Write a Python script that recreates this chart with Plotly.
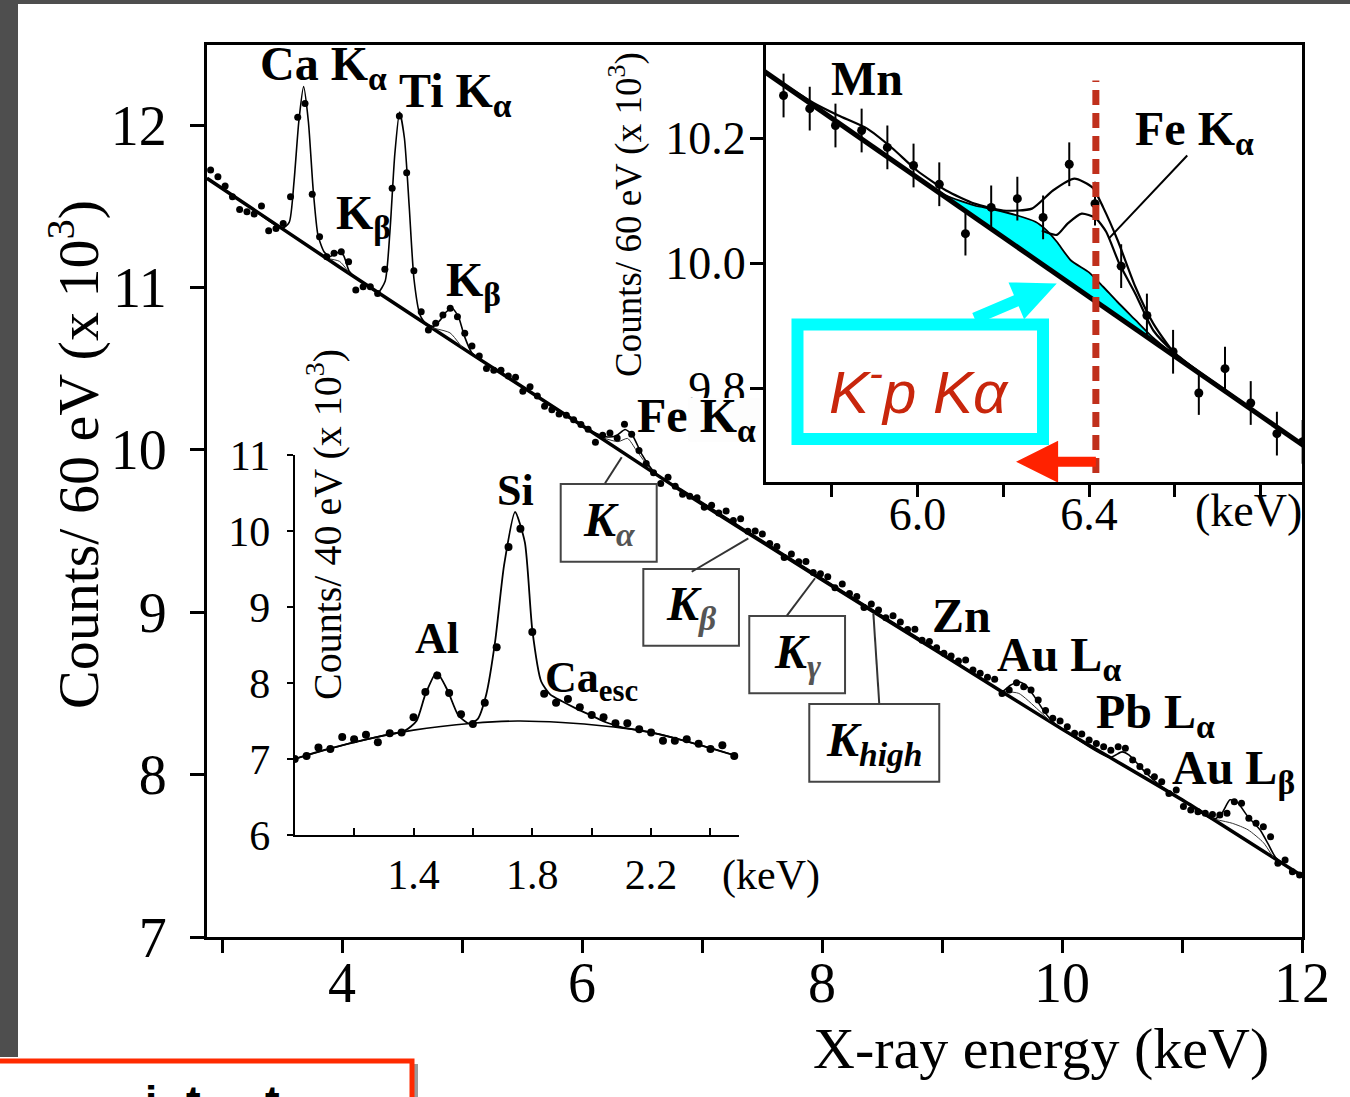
import plotly.graph_objects as go

W, H = 1350, 1097
SERIF = "Liberation Serif, Times New Roman, serif"
SANS = "Liberation Sans, Arial, sans-serif"

# ---------------- main spectrum (60 eV bins) ----------------
ENERGY = [2.905, 2.966, 3.026, 3.087, 3.147, 3.208, 3.268, 3.329, 3.389, 3.450,
          3.510, 3.571, 3.631, 3.692, 3.752, 3.813, 3.873, 3.934, 3.994, 4.055,
          4.115, 4.176, 4.236, 4.297, 4.357, 4.418, 4.478, 4.539, 4.599, 4.660,
          4.720, 4.781, 4.841, 4.902, 4.962, 5.023, 5.083, 5.144, 5.204, 5.265,
          5.325, 5.386, 5.446, 5.507, 5.567, 5.628, 5.688, 5.749, 5.809, 5.870,
          5.930, 5.991, 6.051, 6.112, 6.172, 6.233, 6.293, 6.354, 6.414, 6.475,
          6.535, 6.596, 6.656, 6.717, 6.777, 6.838, 6.898, 6.959, 7.019, 7.080,
          7.140, 7.201, 7.261, 7.322, 7.382, 7.443, 7.503, 7.564, 7.624, 7.685,
          7.745, 7.806, 7.866, 7.927, 7.987, 8.048, 8.108, 8.169, 8.229, 8.290,
          8.350, 8.411, 8.471, 8.532, 8.592, 8.653, 8.713, 8.774, 8.834, 8.895,
          8.955, 9.016, 9.076, 9.137, 9.197, 9.258, 9.318, 9.379, 9.439, 9.500,
          9.560, 9.621, 9.681, 9.742, 9.802, 9.863, 9.923, 9.984, 10.044, 10.105,
          10.165, 10.226, 10.286, 10.347, 10.407, 10.468, 10.528, 10.589, 10.649, 10.710,
          10.770, 10.831, 10.891, 10.952, 11.012, 11.073, 11.133, 11.194, 11.254, 11.315,
          11.375, 11.436, 11.496, 11.557, 11.617, 11.678, 11.738, 11.799, 11.859, 11.920,
          11.980]
COUNTS = [11.723, 11.682, 11.624, 11.558, 11.480, 11.466, 11.452, 11.501, 11.349, 11.363,
          11.394, 11.558, 12.047, 12.133, 11.573, 11.312, 11.189, 11.210, 11.220, 11.158,
          10.984, 11.004, 11.004, 10.963, 11.111, 11.610, 12.055, 11.706, 11.103, 10.850,
          10.737, 10.779, 10.830, 10.871, 10.820, 10.717, 10.639, 10.577, 10.500, 10.490,
          10.490, 10.455, 10.446, 10.360, 10.389, 10.331, 10.268, 10.247, 10.220, 10.212,
          10.185, 10.156, 10.126, 10.047, 10.089, 10.103, 10.073, 10.158, 10.095, 9.995,
          9.916, 9.858, 9.792, 9.831, 9.776, 9.727, 9.714, 9.705, 9.647, 9.659,
          9.611, 9.623, 9.564, 9.576, 9.498, 9.500, 9.482, 9.423, 9.405, 9.337,
          9.359, 9.311, 9.312, 9.244, 9.236, 9.218, 9.150, 9.173, 9.115, 9.097,
          9.029, 9.051, 9.014, 8.966, 8.978, 8.940, 8.893, 8.895, 8.827, 8.819,
          8.781, 8.747, 8.730, 8.700, 8.706, 8.644, 8.624, 8.600, 8.587, 8.500,
          8.521, 8.566, 8.541, 8.521, 8.460, 8.394, 8.347, 8.330, 8.295, 8.254,
          8.250, 8.213, 8.192, 8.172, 8.150, 8.172, 8.162, 8.090, 8.050, 8.018,
          7.987, 7.956, 7.884, 7.905, 7.803, 7.782, 7.772, 7.762, 7.755, 7.751,
          7.762, 7.833, 7.823, 7.731, 7.700, 7.679, 7.618, 7.454, 7.474, 7.402,
          7.382]

BG_E = [2.875, 4.0, 5.1, 6.0, 6.82, 8.0, 8.98, 10.0, 11.0, 12.0]
BG_Y = [11.672, 11.115, 10.58, 10.15, 9.75, 9.2, 8.75, 8.28, 7.845, 7.376]

FIT_E = [2.875, 3.2, 3.5, 3.56, 3.60, 3.64, 3.68, 3.72, 3.76, 3.80, 3.85, 3.90, 3.96,
         4.01, 4.06, 4.12, 4.2, 4.3, 4.36, 4.40, 4.44, 4.48, 4.52, 4.56, 4.60, 4.65,
         4.70, 4.76, 4.82, 4.87, 4.92, 4.97, 5.02, 5.08, 5.15, 5.6, 6.0, 6.12, 6.2,
         6.28, 6.36, 6.42, 6.5, 6.6, 6.7, 6.82, 7.3, 7.7, 8.1, 8.45, 8.8, 9.3, 9.4,
         9.5, 9.57, 9.636, 9.70, 9.78, 9.86, 9.93, 10.0, 10.4, 10.5, 10.56, 10.7,
         10.86, 11.0, 11.26, 11.33, 11.40, 11.46, 11.55, 11.65, 11.72, 11.78, 12.0]
FIT_Y = [11.672, 11.511, 11.363, 11.40, 11.65, 12.02, 12.236, 12.02, 11.60, 11.32,
         11.22, 11.19, 11.215, 11.20, 11.10, 11.055, 11.018, 10.969, 11.04, 11.35,
         11.82, 12.08, 11.92, 11.50, 11.05, 10.83, 10.775, 10.76, 10.80, 10.85, 10.87,
         10.82, 10.70, 10.60, 10.556, 10.341, 10.15, 10.10, 10.08, 10.085, 10.125,
         10.09, 9.97, 9.865, 9.81, 9.76, 9.536, 9.35, 9.164, 9.003, 8.843, 8.605,
         8.556, 8.512, 8.55, 8.572, 8.55, 8.47, 8.38, 8.32, 8.28, 8.106, 8.14, 8.12,
         8.01, 7.91, 7.848, 7.724, 7.76, 7.845, 7.83, 7.74, 7.66, 7.57, 7.49, 7.376]

COMP_E = [3.86, 3.98, 4.06, None, 4.75, 4.90, 5.00, None,
          6.15, 6.30, 6.38, 6.45, 6.55, 6.65, None,
          9.50, 9.64, 9.80, 9.90, None, 11.25, 11.42, 11.55, 11.68, 11.76]
COMP_Y = [11.18, 11.16, 11.09, None, 10.75, 10.72, 10.63, None,
          10.08, 10.05, 10.07, 10.00, 9.90, 9.83, None,
          8.512, 8.50, 8.40, 8.33, None, 7.728, 7.70, 7.66, 7.58, 7.49]

# ---------------- top-right inset (Fe region) ----------------
IN_BG_E = [5.60, 6.95]
IN_BG_Y = [10.327, 9.684]
IN_FIT_E = [5.60, 5.646, 5.70, 5.758, 5.816, 5.883, 5.941, 5.999, 6.067, 6.133, 6.2,
            6.267, 6.316, 6.366, 6.408, 6.433, 6.467, 6.508, 6.55, 6.6, 6.65, 6.717,
            6.8, 6.892, 6.95]
IN_FIT_Y = [10.327, 10.305, 10.281, 10.256, 10.236, 10.215, 10.184, 10.148, 10.116,
            10.095, 10.084, 10.087, 10.116, 10.135, 10.121, 10.089, 10.036, 9.962,
            9.903, 9.855, 9.829, 9.797, 9.756, 9.711, 9.684]
IN_FE_E = [6.29, 6.325, 6.35, 6.383, 6.415, 6.44, 6.47, 6.508, 6.55, 6.6, 6.65]
IN_FE_Y = [10.052, 10.045, 10.063, 10.079, 10.072, 10.05, 10.0, 9.951, 9.892, 9.856, 9.829]
IN_KP_E = [6.0, 6.067, 6.133, 6.175, 6.233, 6.275, 6.3, 6.325, 6.358, 6.4, 6.433,
           6.466, 6.508, 6.55, 6.608]
IN_KP_Y = [10.137, 10.108, 10.092, 10.086, 10.076, 10.066, 10.053, 10.034, 10.004,
           9.985, 9.962, 9.938, 9.909, 9.880, 9.847]
IN_ERR = 0.035

# ---------------- bottom-left inset (40 eV bins) ----------------
SI_E = [1.00, 1.04, 1.08, 1.12, 1.16, 1.20, 1.24, 1.28, 1.32, 1.36, 1.40, 1.44, 1.48,
        1.52, 1.56, 1.60, 1.64, 1.68, 1.72, 1.76, 1.80, 1.84, 1.88, 1.92, 1.96, 2.00,
        2.04, 2.08, 2.12, 2.16, 2.20, 2.24, 2.28, 2.32, 2.36, 2.40, 2.44, 2.48]
SI_Y = [7.00, 7.04, 7.15, 7.13, 7.29, 7.26, 7.32, 7.22, 7.34, 7.35, 7.55, 7.88, 8.10,
        7.87, 7.59, 7.46, 7.74, 8.47, 9.79, 10.03, 8.67, 7.86, 7.74, 7.79, 7.68, 7.58,
        7.55, 7.47, 7.47, 7.39, 7.35, 7.24, 7.24, 7.26, 7.20, 7.13, 7.18, 7.04]
SI_FIT_E = [1.00, 1.10, 1.20, 1.30, 1.37, 1.41, 1.44, 1.478, 1.515, 1.55, 1.585, 1.615,
            1.645, 1.675, 1.705, 1.742, 1.775, 1.80, 1.83, 1.86, 1.90, 1.95, 2.00, 2.05,
            2.10, 2.20, 2.35, 2.48]
SI_FIT_Y = [7.00, 7.12, 7.22, 7.31, 7.37, 7.50, 7.85, 8.14, 7.90, 7.58, 7.47, 7.52,
            7.85, 8.55, 9.55, 10.25, 9.85, 8.70, 8.02, 7.85, 7.76, 7.66, 7.57, 7.48,
            7.42, 7.35, 7.20, 7.05]
SI_BG_E = [1.00, 1.20, 1.40, 1.60, 1.75, 1.90, 2.05, 2.20, 2.35, 2.48]
SI_BG_Y = [7.00, 7.22, 7.38, 7.47, 7.50, 7.48, 7.43, 7.35, 7.20, 7.05]


def px(x):
    return x / W


def py(y):
    return 1 - y / H


fig = go.Figure()

# main
fig.add_trace(go.Scatter(x=BG_E, y=BG_Y, mode="lines", line=dict(color="black", width=3.5, shape="spline", smoothing=0.5),
                         xaxis="x", yaxis="y"))
fig.add_trace(go.Scatter(x=COMP_E, y=COMP_Y, mode="lines", line=dict(color="#333", width=1, shape="spline", smoothing=0.6),
                         connectgaps=False, xaxis="x", yaxis="y"))
fig.add_trace(go.Scatter(x=FIT_E, y=FIT_Y, mode="lines", line=dict(color="black", width=1.6, shape="spline", smoothing=0.6),
                         xaxis="x", yaxis="y"))
fig.add_trace(go.Scatter(x=ENERGY, y=COUNTS, mode="markers", marker=dict(size=7, color="black"),
                         xaxis="x", yaxis="y"))

# top-right inset
fig.add_trace(go.Scatter(x=IN_KP_E, y=IN_KP_Y, mode="lines", fill="toself", fillcolor="#00ffff",
                         line=dict(color="black", width=1.8, shape="spline", smoothing=0.6),
                         xaxis="x2", yaxis="y2"))
fig.add_trace(go.Scatter(x=IN_BG_E, y=IN_BG_Y, mode="lines", line=dict(color="black", width=5),
                         xaxis="x2", yaxis="y2"))
fig.add_trace(go.Scatter(x=IN_FIT_E, y=IN_FIT_Y, mode="lines", line=dict(color="black", width=2.2, shape="spline", smoothing=0.6),
                         xaxis="x2", yaxis="y2"))
fig.add_trace(go.Scatter(x=IN_FE_E, y=IN_FE_Y, mode="lines", line=dict(color="black", width=2.2, shape="spline", smoothing=0.6),
                         xaxis="x2", yaxis="y2"))
fig.add_trace(go.Scatter(x=ENERGY, y=COUNTS, mode="markers", marker=dict(size=9, color="black"),
                         error_y=dict(type="constant", value=IN_ERR, thickness=2, width=0, color="black"),
                         xaxis="x2", yaxis="y2"))

# bottom-left inset
fig.add_trace(go.Scatter(x=SI_BG_E, y=SI_BG_Y, mode="lines", line=dict(color="black", width=1.6, shape="spline", smoothing=0.8),
                         xaxis="x3", yaxis="y3"))
fig.add_trace(go.Scatter(x=SI_FIT_E, y=SI_FIT_Y, mode="lines", line=dict(color="black", width=1.8, shape="spline", smoothing=0.6),
                         xaxis="x3", yaxis="y3"))
fig.add_trace(go.Scatter(x=SI_E, y=SI_Y, mode="markers", marker=dict(size=8, color="black"),
                         xaxis="x3", yaxis="y3"))

axis_common = dict(showgrid=False, zeroline=False, showline=True, linecolor="black", color="black",
                   automargin=False)

fig.update_layout(
    width=W, height=H, margin=dict(l=0, r=0, t=0, b=0, pad=0, autoexpand=False),
    paper_bgcolor="white", plot_bgcolor="rgba(0,0,0,0)", showlegend=False,
    xaxis=dict(axis_common, domain=[px(207), px(1302)], range=[2.875, 12.0], anchor="y",
               linewidth=3, mirror=True, ticks="outside", ticklen=13, tickwidth=3,
               tickvals=[3, 4, 5, 6, 7, 8, 9, 10, 11, 12],
               ticktext=["", "4", "", "6", "", "8", "", "10", "", "12"],
               tickfont=dict(family=SERIF, size=56, color="black"), ticklabelstandoff=-18),
    yaxis=dict(axis_common, domain=[py(937), py(45)], range=[7, 12.4926], anchor="x",
               linewidth=3, mirror=True, ticks="outside", ticklen=14, tickwidth=3,
               tickvals=[7, 8, 9, 10, 11, 12], ticktext=["7", "8", "9", "10", "11", "12"],
               tickfont=dict(family=SERIF, size=56, color="black"), ticklabelstandoff=12),
    xaxis2=dict(axis_common, domain=[px(766), px(1302)], range=[5.6471, 6.8965], anchor="y2",
                linewidth=3, mirror=True, ticks="outside", ticklen=12, tickwidth=2.5,
                tickvals=[5.8, 6.0, 6.2, 6.4, 6.6, 6.8], ticktext=["", "6.0", "", "6.4", "", ""],
                tickfont=dict(family=SERIF, size=46, color="black"), ticklabelstandoff=-22),
    yaxis2=dict(axis_common, domain=[py(482), py(45)], range=[9.6496, 10.3488], anchor="x2",
                linewidth=3, mirror=True, ticks="outside", ticklen=13, tickwidth=2.5,
                tickvals=[9.8, 10.0, 10.2], ticktext=["9.8", "10.0", "10.2"],
                tickfont=dict(family=SERIF, size=46, color="black"), ticklabelstandoff=-5),
    xaxis3=dict(axis_common, domain=[px(294.7), px(739)], range=[1.0, 2.496], anchor="y3",
                linewidth=2, ticks="inside", ticklen=7, tickwidth=2,
                tickvals=[1.0, 1.2, 1.4, 1.6, 1.8, 2.0, 2.2, 2.4],
                ticktext=["", "", "1.4", "", "1.8", "", "2.2", ""],
                tickfont=dict(family=SERIF, size=42, color="black"), ticklabelstandoff=2),
    yaxis3=dict(axis_common, domain=[py(835), py(455)], range=[6, 11], anchor="x3",
                linewidth=2, ticks="outside", ticklen=6, tickwidth=2,
                tickvals=[6, 7, 8, 9, 10, 11], ticktext=["6", "7", "8", "9", "10", "11"],
                tickfont=dict(family=SERIF, size=42, color="black"), ticklabelstandoff=8),
)

shapes = []
# slide frame (dark strips)
shapes.append(dict(type="rect", xref="paper", yref="paper", x0=0, x1=px(18), y0=py(1057), y1=1,
                   fillcolor="#4e4e4e", line=dict(width=0), layer="above"))
shapes.append(dict(type="rect", xref="paper", yref="paper", x0=0, x1=1, y0=py(4), y1=1,
                   fillcolor="#4e4e4e", line=dict(width=0), layer="above"))
# red box at bottom (with shadow)
shapes.append(dict(type="line", xref="paper", yref="paper", x0=px(416), x1=px(416), y0=py(1064), y1=py(1110),
                   line=dict(color="#9a9a9a", width=4)))
shapes.append(dict(type="rect", xref="paper", yref="paper", x0=px(-6), x1=px(412), y0=py(1120), y1=py(1061),
                   fillcolor="white", line=dict(color="#ff2a00", width=5)))
# light patch behind the main "Fe K alpha" label (covers lower part of the inset's 9.8 label)
shapes.append(dict(type="rect", xref="paper", yref="paper", x0=px(688), x1=px(760), y0=py(442), y1=py(398),
                   fillcolor="#fdfdfd", line=dict(width=0), layer="above"))

# kaonic-line boxes and leaders (main axes)
for (x0, x1, y0, y1) in [(5.8225, 6.6225, 9.311, 9.789), (6.511, 7.308, 8.794, 9.266),
                         (7.394, 8.192, 8.501, 8.977), (7.894, 8.977, 7.956, 8.435)]:
    shapes.append(dict(type="rect", xref="x", yref="y", x0=x0, x1=x1, y0=y0, y1=y1,
                       line=dict(color="#444", width=2), fillcolor="rgba(0,0,0,0)"))
for (x0, y0, x1, y1) in [(6.192, 9.794, 6.331, 9.954), (6.914, 9.249, 7.386, 9.455),
                         (7.706, 8.977, 7.942, 9.209), (8.477, 8.439, 8.428, 8.993)]:
    shapes.append(dict(type="line", xref="x", yref="y", x0=x0, y0=y0, x1=x1, y1=y1,
                       line=dict(color="#333", width=2)))

# inset decorations
shapes.append(dict(type="line", xref="x2", yref="y2", x0=6.629, y0=10.172, x1=6.446, y1=10.039,
                   line=dict(color="black", width=2)))
shapes.append(dict(type="line", xref="x2", yref="y2", x0=6.416, x1=6.416, y0=9.664, y1=10.292,
                   line=dict(color="#c0301c", width=7, dash="15px,8px")))
shapes.append(dict(type="path", xref="x2", yref="y2",
                   path="M 6.416,9.690 L 6.328,9.690 L 6.328,9.7155 L 6.23,9.682 L 6.328,9.6485 L 6.328,9.674 L 6.416,9.674 Z",
                   fillcolor="#ff2200", line=dict(width=0)))
shapes.append(dict(type="rect", xref="x2", yref="y2", x0=5.7205, x1=6.2928, y0=9.7184, y1=9.9016,
                   fillcolor="white", line=dict(color="#00ffff", width=12)))
shapes.append(dict(type="path", xref="x2", yref="y2",
                   path="M 6.1388,9.9024 L 6.2360,9.9308 L 6.2487,9.9102 L 6.3249,9.9671 L 6.2124,9.9690 L 6.2251,9.9484 L 6.1279,9.9200 Z",
                   fillcolor="#00ffff", line=dict(width=0)))
fig.update_layout(shapes=shapes)

ann = []


def lab(x, y, text, size=48, ref=("x", "y"), xanchor="left", bold=True, family=SERIF, color="black", **kw):
    t = f"<b>{text}</b>" if bold else text
    ann.append(dict(x=x, y=y, xref=ref[0], yref=ref[1], text=t, showarrow=False, xanchor=xanchor,
                    yanchor=kw.pop("yanchor", "middle"), font=dict(family=family, size=size, color=color), **kw))


# titles
lab(px(75), py(455), "Counts/ 60 eV (x 10<sup>3</sup>)", size=58, ref=("paper", "paper"), xanchor="center",
    bold=False, textangle=-90)
lab(px(1041), py(1048), "X-ray energy (keV)", size=58, ref=("paper", "paper"), xanchor="center", bold=False)
lab(px(626), py(215), "Counts/ 60 eV (x 10<sup>3</sup>)", size=37, ref=("paper", "paper"), xanchor="center",
    bold=False, textangle=-90)
lab(px(1248), py(510), "(keV)", size=46, ref=("paper", "paper"), xanchor="center", bold=False)
lab(px(324), py(525), "Counts/ 40 eV (x 10<sup>3</sup>)", size=40, ref=("paper", "paper"), xanchor="center",
    bold=False, textangle=-90)
lab(px(771), py(875), "(keV)", size=42, ref=("paper", "paper"), xanchor="center", bold=False)

# main peak labels
lab(3.30, 12.36, "Ca K<sub>α</sub>")
lab(4.458, 12.19, "Ti K<sub>α</sub>")
lab(3.93, 11.44, "K<sub>β</sub>")
lab(4.85, 11.03, "K<sub>β</sub>")
lab(6.44, 10.19, "Fe K<sub>α</sub>")
lab(8.90, 8.98, "Zn")
lab(9.44, 8.72, "Au L<sub>α</sub>")
lab(10.27, 8.37, "Pb L<sub>α</sub>")
lab(10.90, 8.02, "Au L<sub>β</sub>")

# kaonic hydrogen box labels
for (x, y, s) in [(6.2225, 9.55, "α"), (6.91, 9.03, "β"), (7.793, 8.739, "γ")]:
    lab(x, y, f"<i>K</i><sub><i><span style='color:#555'>{s}</span></i></sub>", size=48, xanchor="center")
lab(8.4355, 8.195, "<i>K<sub>high</sub></i>", size=48, xanchor="center")

# inset labels
lab(5.8825, 10.295, "Mn", ref=("x2", "y2"), xanchor="center")
lab(6.503, 10.21, "Fe K<sub>α</sub>", ref=("x2", "y2"))
lab(6.003, 9.80, "<i>K<sup>-</sup>p Kα</i>", size=60, ref=("x2", "y2"), xanchor="center", bold=False,
    family=SANS, color="#c8260c")

# bottom inset labels
lab(1.479, 8.58, "Al", size=44, ref=("x3", "y3"), xanchor="center")
lab(1.742, 10.53, "Si", size=44, ref=("x3", "y3"), xanchor="center")
lab(1.835, 8.03, "Ca<sub>esc</sub>", size=44, ref=("x3", "y3"))

# partially visible text at bottom (cut by page edge)
for (xx, ch) in [(151, "i"), (193, "t"), (272, "t")]:
    lab(px(xx), py(1075), ch, size=44, ref=("paper", "paper"), xanchor="center", family=SANS,
        yanchor="top")

fig.update_layout(annotations=ann)
fig.write_html("out.html", config={"displayModeBar": False},
               post_script="document.body.style.margin='0';")
